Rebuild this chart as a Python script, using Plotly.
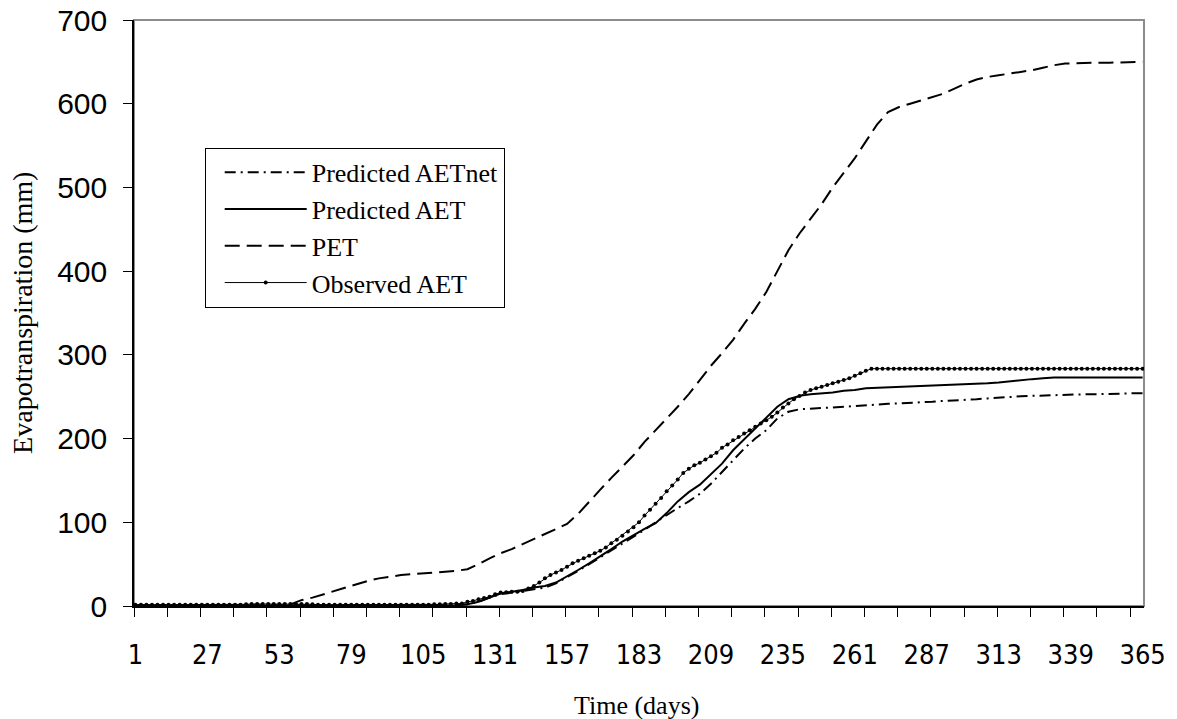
import plotly.graph_objects as go

# Day-of-year sampling for the model series (every 4 days) and the observations (every 2 days)
model_day = list(range(1, 366, 4))
obs_day = list(range(1, 366, 2))

# Category labels shown on the time axis
x_tick_days = [1, 27, 53, 79, 105, 131, 157, 183, 209, 235, 261, 287, 313, 339, 365]
y_tick_vals = [0, 100, 200, 300, 400, 500, 600, 700]

# Cumulative evapotranspiration (mm), model days 1, 5, 9, ..., 365
pred_aetnet = [
    0.3, 0.3, 0.3, 0.3, 0.3, 0.3, 0.3, 0.3,            # 1-29
    0.3, 0.3, 0.3, 0.3, 0.3, 0.3, 0.3, 0.3,            # 33-61
    0.3, 0.3, 0.3, 0.3, 0.3, 0.3, 0.3, 0.3,            # 65-93
    0.3, 0.3, 0.3, 0.3, 0.3, 1, 2, 5,                  # 97-125
    10, 14, 16, 18, 20, 22, 27, 34,                    # 129-157
    42, 50, 58, 66, 74, 82, 91, 100,                   # 161-189
    109, 117, 125, 134, 146, 160, 174, 188,            # 193-221
    200, 210, 224, 232, 235, 236, 236.5, 237,          # 225-253
    238, 239, 240, 241, 241.5, 242, 242.5, 243,        # 257-285
    244, 245, 245.5, 246, 247, 248, 249, 250,          # 289-317
    250.5, 251, 251.5, 252, 252.5, 253, 253, 253,      # 321-349
    253.5, 253.5, 254, 254,                            # 353-365
]

pred_aet = [
    0.5, 0.5, 0.5, 0.5, 0.5, 0.5, 0.5, 0.5,            # 1-29
    0.5, 0.5, 0.5, 0.5, 0.5, 0.5, 0.5, 0.5,            # 33-61
    0.5, 0.5, 0.5, 0.5, 0.5, 0.5, 0.5, 0.5,            # 65-93
    0.5, 0.5, 0.5, 0.5, 0.5, 1, 2, 5,                  # 97-125
    10, 15, 17, 19, 22, 24, 28, 35,                    # 129-157
    43, 51, 59, 68, 77, 85, 92, 99,                    # 161-189
    111, 125, 136, 145, 157, 170, 186, 199,            # 193-221
    213, 226, 238, 247, 251, 253, 254, 255,            # 225-253
    257, 258, 260, 260.5, 261, 261.5, 262, 262.5,      # 257-285
    263, 263.5, 264, 265, 265.5, 266, 267, 268.5,      # 289-317
    270, 271, 272, 273, 273, 273, 273, 273,            # 321-349
    273, 273, 273, 273,                                # 353-365
]

pet = [
    0.5, 0.5, 0.5, 0.5, 0.5, 0.5, 0.5, 0.5,            # 1-29
    0.5, 0.5, 0.5, 0.5, 0.5, 0.5, 2, 7,                # 33-61
    10, 14, 18, 22, 26, 30, 33, 35,                    # 65-93
    37, 38, 39, 40, 41, 42, 44, 50,                    # 97-125
    57, 63, 68, 74, 80, 86, 92, 98,                    # 129-157
    110, 125, 139, 153, 167, 180, 196, 210,            # 161-189
    223, 238, 253, 270, 287, 302, 318, 337,            # 193-221
    355, 375, 400, 425, 445, 462, 480, 500,            # 225-253
    518, 535, 555, 575, 590, 596, 600, 604,            # 257-285
    608, 612, 618, 624, 629, 632, 634, 636,            # 289-317
    638, 640, 643, 646, 648, 648.5, 649, 649,          # 321-349
    649, 649.5, 650, 650,                              # 353-365
]

# Observed cumulative AET (mm), days 1, 3, 5, ..., 365
observed_aet = [
    1.5, 1.5, 1.5, 1.5, 1.5, 1.5, 1.5, 1.5, 1.5, 1.5,                  # 1-19
    1.5, 1.5, 1.5, 1.5, 1.5, 1.5, 1.5, 1.5, 1.5, 1.5,                  # 21-39
    2, 2.5, 2.5, 2.5, 2.5, 2.5, 2.5, 2.5, 2.5, 2.5,                    # 41-59
    2.5, 2.5, 2, 1.5, 1.5, 1.5, 1.5, 1.5, 1.5, 1.5,                    # 61-79
    1.5, 1.5, 1.5, 1.5, 1.5, 1.5, 1.5, 1.5, 1.5, 1.5,                  # 81-99
    1.5, 1.5, 1.5, 1.5, 2, 2, 2.5, 2.5, 3, 3,                          # 101-119
    5, 6, 8, 9.5, 11, 14, 16, 16.5, 17, 17,                            # 121-139
    18, 21, 24, 28, 33, 37, 40, 43, 47, 51,                            # 141-159
    54, 57, 60, 63, 66, 70, 75, 79, 84, 89,                            # 161-179
    94, 100, 108, 115, 122, 129, 137, 144, 151, 159,                   # 181-199
    164, 168, 171, 175, 179, 183, 189, 193, 198, 202,                  # 201-219
    206, 210, 214, 218, 222, 226, 231, 237, 242, 247,                  # 221-239
    251, 255, 258, 260, 262, 264, 266, 268, 270, 272,                  # 241-259
    275, 278, 281, 283.5, 283.5, 283.5, 283.5, 283.5, 283.5, 283.5,    # 261-279
    283.5, 283.5, 283.5, 283.5, 283.5, 283.5, 283.5, 283.5, 283.5, 283.5,  # 281-299
    283.5, 283.5, 283.5, 283.5, 283.5, 283.5, 283.5, 283.5, 283.5, 283.5,  # 301-319
    283.5, 283.5, 283.5, 283.5, 283.5, 283.5, 283.5, 283.5, 283.5, 283.5,  # 321-339
    283.5, 283.5, 283.5, 283.5, 283.5, 283.5, 283.5, 283.5, 283.5, 283.5,  # 341-359
    283.5, 283.5, 283.5,                                               # 361-365
]

assert len(pred_aetnet) == len(pred_aet) == len(pet) == len(model_day)
assert len(observed_aet) == len(obs_day)

SERIF = "Liberation Serif, Times New Roman, serif"
SANS = "Liberation Sans, Arial, sans-serif"
NARROW = "DejaVu Sans Condensed, Liberation Sans, sans-serif"

fig = go.Figure()
fig.add_trace(go.Scatter(
    x=model_day, y=pred_aetnet, name="Predicted AETnet", mode="lines",
    line=dict(color="black", width=2, dash="11px,5px,2px,5px"),
))
fig.add_trace(go.Scatter(
    x=model_day, y=pred_aet, name="Predicted AET", mode="lines",
    line=dict(color="black", width=2),
))
fig.add_trace(go.Scatter(
    x=model_day, y=pet, name="PET", mode="lines",
    line=dict(color="black", width=2, dash="15px,7px"),
))
fig.add_trace(go.Scatter(
    x=obs_day, y=observed_aet, name="Observed AET", mode="lines+markers",
    line=dict(color="black", width=1),
    marker=dict(color="black", size=4),
))

# Tick marks every 12 days on category boundaries; labels every 26 days
boundary_ticks = [0.5 + 12 * k for k in range(31)]

fig.update_xaxes(
    range=[0.5, 365.5],
    automargin=False,
    tickmode="array",
    tickvals=x_tick_days,
    ticktext=[str(d) for d in x_tick_days],
    ticks="outside", ticklen=24, tickcolor="rgba(0,0,0,0)",
    tickfont=dict(family=NARROW, size=27, color="black"),
    showline=True, linecolor="black", linewidth=1.5,
    showgrid=False, zeroline=False,
    minor=dict(tickmode="array", tickvals=boundary_ticks, ticks="outside",
               ticklen=9, tickcolor="black", tickwidth=1, showgrid=False),
)
fig.update_yaxes(
    range=[0, 700],
    automargin=False,
    tickmode="array", tickvals=y_tick_vals,
    ticks="outside", ticklen=9, tickcolor="black", tickwidth=1,
    ticklabelstandoff=10,
    tickfont=dict(family=SANS, size=30, color="black"),
    showline=True, linecolor="black", linewidth=1.5,
    showgrid=False, zeroline=False,
)

fig.update_layout(
    width=1177, height=719,
    margin=dict(l=134, r=33, t=20, b=113),
    paper_bgcolor="white", plot_bgcolor="white",
    showlegend=True,
    legend=dict(
        x=0.07, y=0.782, xanchor="left", yanchor="top",
        bgcolor="white", bordercolor="black", borderwidth=1,
        font=dict(family=SERIF, size=26, color="black"),
        itemwidth=82, tracegroupgap=0, indentation=14,
    ),
    shapes=[dict(type="rect", xref="paper", yref="paper", x0=0, x1=1, y0=0, y1=1,
                 line=dict(color="#8c8c8c", width=2), layer="below")],
    annotations=[
        dict(text="Evapotranspiration (mm)", textangle=-90, showarrow=False,
             xref="paper", yref="paper", x=-0.111, y=0.5,
             xanchor="center", yanchor="middle",
             font=dict(family=SERIF, size=28, color="black")),
        dict(text="Time (days)", showarrow=False,
             xref="paper", yref="paper", x=0.498, y=-0.169,
             xanchor="center", yanchor="middle",
             font=dict(family=SERIF, size=26, color="black")),
    ],
)

fig.write_html("out.html")
